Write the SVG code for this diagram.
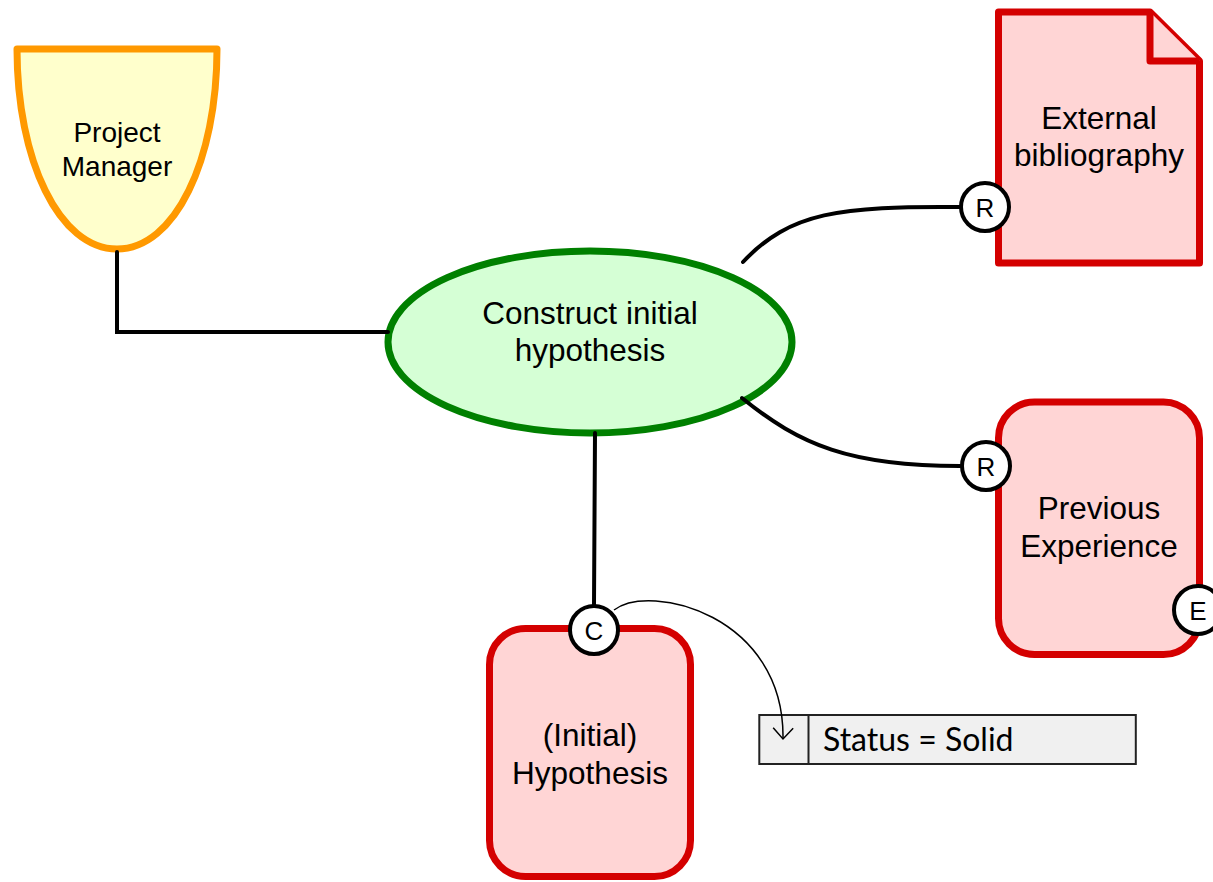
<svg xmlns="http://www.w3.org/2000/svg" width="1213" height="882" viewBox="0 0 1213 882">
  <style>
    .lbl { font-family: "Liberation Sans", Arial, sans-serif; font-size: 31.5px; fill: #000; text-anchor: middle; }
    .pm { font-size: 28px; }
    .port circle { fill: #fff; stroke: #000; stroke-width: 4; }
    .port text { font-family: "Liberation Sans", Arial, sans-serif; font-size: 26px; fill: #000; text-anchor: middle; }
    .res { fill: #ffd5d5; stroke: #d40000; stroke-width: 7; stroke-linejoin: round; }
    .link { fill: none; stroke: #000; stroke-width: 4; stroke-linecap: round; }
    .flow { fill: none; stroke: #000; stroke-width: 1.5; }
  </style>
  <defs>
    <marker id="openArrow" viewBox="0 0 24 24" refX="13" refY="12" markerWidth="24" markerHeight="24" markerUnits="userSpaceOnUse" orient="auto">
      <path d="M2,2 L13,12 L2,22" fill="none" stroke="#000" stroke-width="1.5"/>
    </marker>
  </defs>

  <!-- role: Project Manager -->
  <g id="project-manager">
    <path d="M17,49 H217 C217,160 175,249 117,249 C59,249 17,160 17,49 Z" fill="#ffffcc" stroke="#ff9900" stroke-width="7" stroke-linejoin="round"/>
    <text class="lbl pm" x="117" y="142">Project</text>
    <text class="lbl pm" x="117" y="176">Manager</text>
  </g>

  <!-- activity -->
  <g id="construct-hypothesis">
    <ellipse cx="590" cy="342" rx="202" ry="91" fill="#d5ffd5" stroke="#008000" stroke-width="7"/>
    <text class="lbl" x="590" y="324">Construct initial</text>
    <text class="lbl" x="590" y="361">hypothesis</text>
  </g>

  <!-- document resource -->
  <g id="external-bibliography">
    <path class="res" d="M998.5,12 H1150 L1199.5,61 V263 H998.5 Z"/>
    <path class="res" d="M1150,12 V61 H1199.5" fill="none"/>
    <text class="lbl" x="1099" y="129">External</text>
    <text class="lbl" x="1099" y="166">bibliography</text>
  </g>

  <g id="previous-experience">
    <rect class="res" x="998.5" y="402" width="201" height="252.5" rx="36"/>
    <text class="lbl" x="1099" y="519">Previous</text>
    <text class="lbl" x="1099" y="557">Experience</text>
  </g>

  <g id="initial-hypothesis">
    <rect class="res" x="489.5" y="628.5" width="201" height="248" rx="36"/>
    <text class="lbl" x="590" y="746">(Initial)</text>
    <text class="lbl" x="590" y="784">Hypothesis</text>
  </g>

  <!-- state box -->
  <g id="status">
    <rect x="759.3" y="715" width="376.5" height="49" fill="#f0f0f0" stroke="#222" stroke-width="2"/>
    <line x1="808.5" y1="715" x2="808.5" y2="764" stroke="#222" stroke-width="2"/>
    <text x="823" y="751" font-family="Lato, 'Open Sans', sans-serif" font-size="32" fill="#000">Status = Solid</text>
  </g>

  <!-- connectors -->
  <g id="connectors">
    <path class="link" d="M117,252 V332 H388"/>
    <path class="link" d="M743,262 C790,212 840,206 960,207"/>
    <path class="link" d="M742,398 C800,445 850,466 960,466"/>
    <path class="link" d="M595,433 L594,605"/>
    <path class="flow" d="M614,610 C650,582 785,615 783,739" marker-end="url(#openArrow)"/>
  </g>

  <!-- ports on the node borders -->
  <g id="ports">
    <g class="port" id="port-ext-r">
      <circle cx="985" cy="207" r="24"/>
      <text x="985" y="216.5">R</text>
    </g>
    <g class="port" id="port-prev-r">
      <circle cx="986" cy="466" r="24"/>
      <text x="986" y="475.5">R</text>
    </g>
    <g class="port" id="port-prev-e">
      <circle cx="1198" cy="610" r="24"/>
      <text x="1198" y="619.5">E</text>
    </g>
    <g class="port" id="port-hyp-c">
      <circle cx="594" cy="630" r="24"/>
      <text x="594" y="639.5">C</text>
    </g>
  </g>
</svg>
